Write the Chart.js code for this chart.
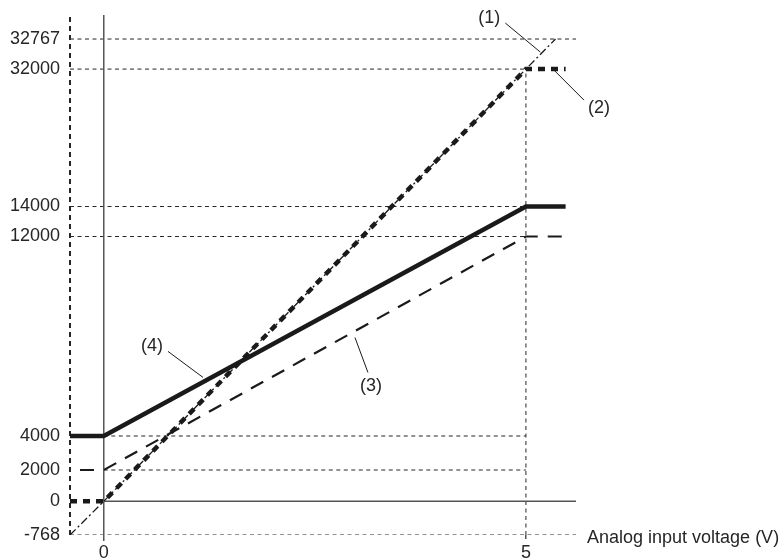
<!DOCTYPE html>
<html>
<head>
<meta charset="utf-8">
<script src="https://cdn.jsdelivr.net/npm/chart.js@4/dist/chart.umd.min.js"></script>
<style>
  html, body { margin: 0; padding: 0; background: #fff; }
  #wrap { width: 784px; height: 560px; }
</style>
</head>
<body>
<div id="wrap"><canvas id="myChart" width="784" height="560"></canvas></div>
<script>
// x: analog input voltage (V), y: digital output value
const xTicks = [0, 5];
const yTicks = [-768, 0, 2000, 4000, 12000, 14000, 32000, 32767];

// (1) .. (4) characteristics
const line1X = [-0.4, 0, 5, 5.35];
const line1Y = [-768, 0, 32000, 32767];
const line2X = [-0.4, 0, 5, 5.47];
const line2Y = [0, 0, 32000, 32000];
const line3X = [-0.4, 0, 5, 5.47];
const line3Y = [2000, 2000, 12000, 12000];
const line4X = [-0.4, 0, 5, 5.47];
const line4Y = [4000, 4000, 14000, 14000];

const xMin = -0.4, xMax = 5.593;
const yMin = -768, yMax = 33400;

// the y axis is drawn "broken": each tick value sits at its own height (fraction of the plot)
const breakValues = [-768, 0, 2000, 4000, 12000, 14000, 32000, 32767, 33400];
const breakFracs  = [0, 0.0648, 0.125, 0.1904, 0.574, 0.6317, 0.896, 0.9538, 1];

function toFrac(v) {
  if (v <= breakValues[0]) return breakFracs[0];
  for (let i = 1; i < breakValues.length; i++) {
    if (v <= breakValues[i]) {
      const t = (v - breakValues[i - 1]) / (breakValues[i] - breakValues[i - 1]);
      return breakFracs[i - 1] + t * (breakFracs[i] - breakFracs[i - 1]);
    }
  }
  return 1;
}
function fromFrac(f) {
  for (let i = 1; i < breakFracs.length; i++) {
    if (f <= breakFracs[i]) {
      const t = (f - breakFracs[i - 1]) / (breakFracs[i] - breakFracs[i - 1]);
      return breakValues[i - 1] + t * (breakValues[i] - breakValues[i - 1]);
    }
  }
  return breakValues[breakValues.length - 1];
}

class BrokenScale extends Chart.LinearScale {
  getPixelForValue(value) {
    if (value === null || value === undefined) return NaN;
    return this.bottom - toFrac(value) * (this.bottom - this.top);
  }
  getValueForPixel(pixel) {
    return fromFrac((this.bottom - pixel) / (this.bottom - this.top));
  }
}
BrokenScale.id = 'broken';
BrokenScale.defaults = Chart.LinearScale.defaults;
Chart.register(BrokenScale);

const pts = (xs, ys) => xs.map((x, i) => ({x: x, y: ys[i]}));

const INK = '#1a1a1a';
const TEXT = '#262626';
const GUIDE = '#262626';
const AXIS = '#555555';

// dashed guide lines: [y, xFrom, xTo]
const hGuides = [
  [32767, xMin, xMax],
  [32000, xMin, 5],
  [14000, xMin, 5],
  [12000, xMin, 5],
  [4000, 0, 5],
  [2000, 0, 5],
  [-768, xMin, xMax]
];

const guideSets = hGuides.map(g => ({
  data: [{x: g[1], y: g[0]}, {x: g[2], y: g[0]}],
  borderColor: GUIDE, borderWidth: 1, borderDash: [4, 3.5],
  pointRadius: 0, order: 10
}));
guideSets.push({
  data: [{x: 5, y: -768}, {x: 5, y: 32000}],
  borderColor: GUIDE, borderWidth: 1, borderDash: [4, 3.5],
  pointRadius: 0, order: 10
});
// left dashed frame line at x = -0.4
guideSets.push({
  data: [{x: xMin, y: yMin}, {x: xMin, y: yMax}],
  borderColor: GUIDE, borderWidth: 2, borderDash: [5, 4],
  pointRadius: 0, order: 10, clip: false
});
// solid axes through the origin
guideSets.push({
  data: [{x: 0, y: 0}, {x: xMax, y: 0}],
  borderColor: AXIS, borderWidth: 1.5, pointRadius: 0, order: 9
});
guideSets.push({
  data: [{x: 0, y: yMin}, {x: 0, y: yMax}],
  borderColor: AXIS, borderWidth: 1.5, pointRadius: 0, order: 9
});

const FONT = {family: '"Liberation Sans", Arial, Helvetica, sans-serif', size: 18};

// callouts: label, anchor on the curve (data), leader vector (px), label offset from leader end (px)
const callouts = [
  {text: '(1)', x: 5.17, y: 32435, dx: -35, dy: -29, tx: -16, ty: -5},
  {text: '(2)', x: 5.32, y: 32000, dx: 31, dy: 31, tx: 15, ty: 8},
  {text: '(3)', x: 2.975, y: 7950, dx: 13, dy: 35, tx: 3, ty: 14},
  {text: '(4)', x: 1.175, y: 6350, dx: -35, dy: -26, tx: -16, ty: -5}
];

const notes = {
  id: 'notes',
  afterDatasetsDraw(chart) {
    const c = chart.ctx, xs = chart.scales.x, ys = chart.scales.y;
    c.save();
    c.font = FONT.size + 'px ' + FONT.family;
    c.fillStyle = TEXT;
    c.strokeStyle = INK;
    c.lineWidth = 1;
    c.textAlign = 'center';
    c.textBaseline = 'middle';
    callouts.forEach(a => {
      const px = xs.getPixelForValue(a.x), py = ys.getPixelForValue(a.y);
      c.beginPath();
      c.moveTo(px, py);
      c.lineTo(px + a.dx, py + a.dy);
      c.stroke();
      c.fillText(a.text, px + a.dx + a.tx, py + a.dy + a.ty);
    });
    c.textAlign = 'left';
    c.textBaseline = 'alphabetic';
    c.fillText('Analog input voltage (V)', chart.chartArea.right + 11, ys.getPixelForValue(-768) + 8);
    c.restore();
  }
};

new Chart(document.getElementById('myChart'), {
  type: 'line',
  data: {
    datasets: [
      {label: '(1)', data: pts(line1X, line1Y), borderColor: INK, borderWidth: 1.3,
       borderDash: [8, 3, 2, 3], pointRadius: 0, order: 4},
      {label: '(2)', data: pts(line2X, line2Y), borderColor: INK, borderWidth: 4.5,
       borderDash: [7, 6], pointRadius: 0, order: 2},
      {label: '(3)', data: pts(line3X, line3Y), borderColor: INK, borderWidth: 2.2,
       borderDash: [14, 10], borderDashOffset: 14, pointRadius: 0, order: 3},
      {label: '(4)', data: pts(line4X, line4Y), borderColor: INK, borderWidth: 4.5,
       pointRadius: 0, order: 1},
      ...guideSets
    ]
  },
  options: {
    responsive: false,
    animation: false,
    layout: {padding: {left: 10, top: 15, right: 208, bottom: 0}},
    plugins: {legend: {display: false}, tooltip: {enabled: false}},
    elements: {line: {tension: 0, borderCapStyle: 'butt'}},
    scales: {
      x: {
        type: 'linear', min: xMin, max: xMax,
        afterBuildTicks: s => { s.ticks = xTicks.map(v => ({value: v})); },
        afterFit: s => { s.height = 25; s.paddingLeft = 0; s.paddingRight = 0; },
        grid: {drawOnChartArea: false, drawTicks: true, tickLength: 6, color: AXIS, lineWidth: 1.5,
               tickBorderDash: ctx => (ctx.tick && ctx.tick.value === 5 ? [4, 3.5] : [])},
        border: {display: false},
        ticks: {font: FONT, color: TEXT, padding: 1, maxRotation: 0, callback: v => String(v)}
      },
      y: {
        type: 'broken', min: yMin, max: yMax,
        afterBuildTicks: s => { s.ticks = yTicks.map(v => ({value: v})); },
        afterFit: s => { s.width = 60; s.paddingTop = 0; s.paddingBottom = 0; },
        grid: {display: false, drawTicks: false},
        border: {display: false},
        ticks: {font: FONT, color: TEXT, padding: 10, autoSkip: false, callback: v => String(v)}
      }
    }
  },
  plugins: [notes]
});
</script>
</body>
</html>
